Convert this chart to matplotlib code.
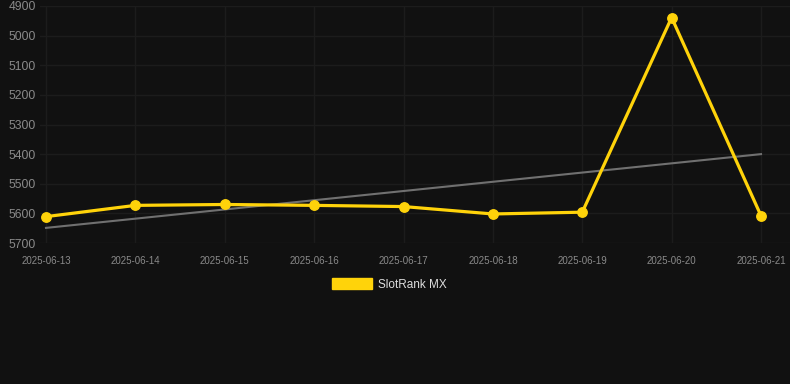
import matplotlib
matplotlib.use("Agg")
import matplotlib.pyplot as plt
from matplotlib.patches import Rectangle

plt.rcParams["font.family"] = ["Liberation Sans", "DejaVu Sans"]

dates = ["2025-06-13", "2025-06-14", "2025-06-15", "2025-06-16", "2025-06-17",
         "2025-06-18", "2025-06-19", "2025-06-20", "2025-06-21"]
rank = [5611, 5573, 5570, 5573, 5577, 5602, 5596, 4939, 5608]
trend_ends = [5649, 5400]
y_ticks = [4900, 5000, 5100, 5200, 5300, 5400, 5500, 5600, 5700]
series_name = "SlotRank MX"

BG = "#111111"
YELLOW = "#FFD30A"

fig = plt.figure(figsize=(7.9, 3.84), dpi=100, facecolor=BG)
W, H = 790, 384
ax = fig.add_axes([40 / W, 1 - 243 / H, 750 / W, (243 - 6) / H])
ax.set_facecolor(BG)

xs = list(range(len(dates)))
ax.plot([xs[0], xs[-1]], trend_ends, color="#707070", lw=1.5, zorder=2)
ax.plot(xs, rank, color=YELLOW, lw=2.3, marker="o", ms=6.8, zorder=3,
        solid_joinstyle="round")

ax.set_xlim(-6 / 89.4, 8 + 29 / 89.4)
ax.set_ylim(5700, 4900)
ax.set_yticks(y_ticks)
ax.set_yticklabels([str(v) for v in y_ticks])
ax.set_xticks(xs)
ax.set_xticklabels(dates)

ax.grid(True, color="#1c1c1c", lw=1)
ax.set_axisbelow(True)
for s in ax.spines.values():
    s.set_visible(False)
ax.tick_params(axis="both", length=0)
ax.tick_params(axis="y", colors="#8a8a8a", labelsize=8.7, pad=3)
ax.tick_params(axis="x", colors="#8a8a8a", labelsize=7, pad=9)

# legend
fig.patches.append(Rectangle((332 / W, 1 - 289 / H), 40 / W, 11 / H,
                             transform=fig.transFigure, color=YELLOW))
fig.text(378 / W, 1 - 284.5 / H, series_name, color="#dddddd", fontsize=8.5,
         va="center", ha="left")

fig.savefig("out.png", dpi=100, facecolor=BG)
